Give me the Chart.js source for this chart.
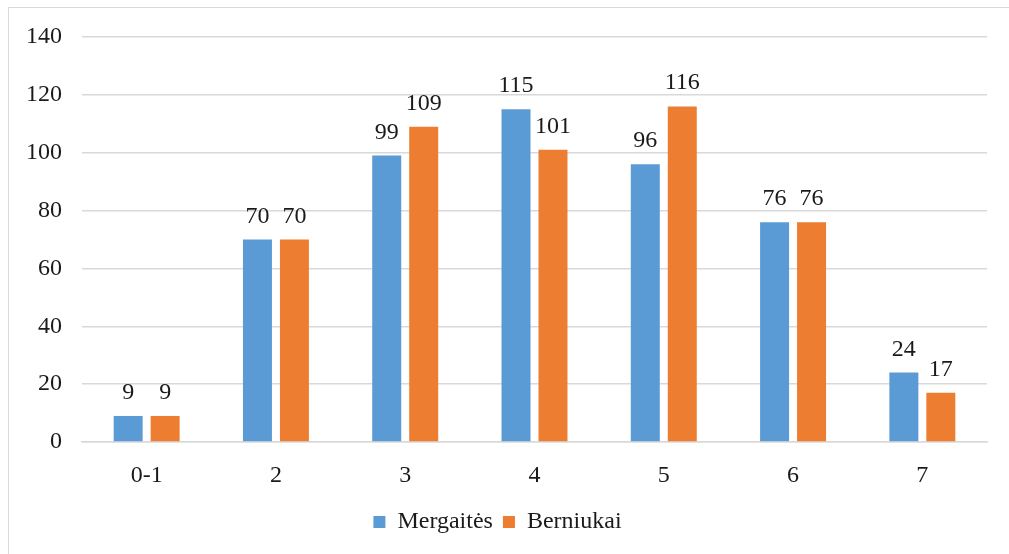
<!DOCTYPE html>
<html>
<head>
<meta charset="utf-8">
<script src="https://cdn.jsdelivr.net/npm/chart.js@4"></script>
<style>
    html, body { margin: 0; padding: 0; background: #fff; }
    #wrap { position: relative; width: 1009px; height: 554px; overflow: hidden; }
    #frame { position: absolute; left: 8px; top: 7px; width: 1100px; height: 600px; border: 1px solid #d9d9d9; }
    canvas { position: absolute; left: 0; top: 0; }
</style>
</head>
<body>
<div id="wrap">
    <div id="frame"></div>
    <canvas id="chart" width="1009" height="554"></canvas>
</div>
<script>
const ageGroups = ['0-1', '2', '3', '4', '5', '6', '7'];
const girls = [9, 70, 99, 115, 96, 76, 24];
const boys = [9, 70, 109, 101, 116, 76, 17];

const FONT = '"Liberation Serif", "Times New Roman", serif';
const SIZE = 24;

// draws the value above each bar, like Excel's "outside end" labels
const valueLabels = {
    id: 'valueLabels',
    afterDatasetsDraw(chart) {
        const ctx = chart.ctx;
        ctx.save();
        ctx.font = SIZE + 'px ' + FONT;
        ctx.fillStyle = '#1a1a1a';
        ctx.textAlign = 'center';
        ctx.textBaseline = 'alphabetic';
        chart.data.datasets.forEach((ds, i) => {
            chart.getDatasetMeta(i).data.forEach((bar, j) => {
                ctx.fillText(ds.data[j], bar.x, bar.y - 17);
            });
        });
        ctx.restore();
    }
};

new Chart(document.getElementById('chart'), {
    type: 'bar',
    data: {
        labels: ageGroups,
        datasets: [
            { label: 'Mergaitės', data: girls, backgroundColor: '#5b9bd5' },
            { label: 'Berniukai', data: boys, backgroundColor: '#ed7d31' },
        ],
    },
    options: {
        responsive: false,
        animation: false,
        categoryPercentage: 0.572,
        barPercentage: 0.784,
        layout: {
            padding: { left: 8, right: 22, top: 37, bottom: 10 },
        },
        plugins: {
            tooltip: { enabled: false },
            legend: {
                position: 'bottom',
                labels: {
                    boxWidth: 12,
                    boxHeight: 12,
                    padding: 10,
                    color: '#1a1a1a',
                    font: { family: FONT, size: SIZE },
                },
            },
        },
        scales: {
            x: {
                grid: { display: false },
                border: { color: '#d9d9d9', width: 1.5 },
                ticks: {
                    color: '#1a1a1a',
                    padding: 11,
                    font: { family: FONT, size: SIZE },
                },
                afterFit: s => { s.height = 58; },
            },
            y: {
                min: 0,
                max: 140,
                border: { display: false },
                grid: { color: '#d9d9d9', lineWidth: 1.5, drawTicks: false },
                ticks: {
                    stepSize: 20,
                    color: '#1a1a1a',
                    padding: 20,
                    font: { family: FONT, size: SIZE },
                },
                afterFit: s => { s.width = 74; },
            },
        },
    },
    plugins: [valueLabels],
});
</script>
</body>
</html>
